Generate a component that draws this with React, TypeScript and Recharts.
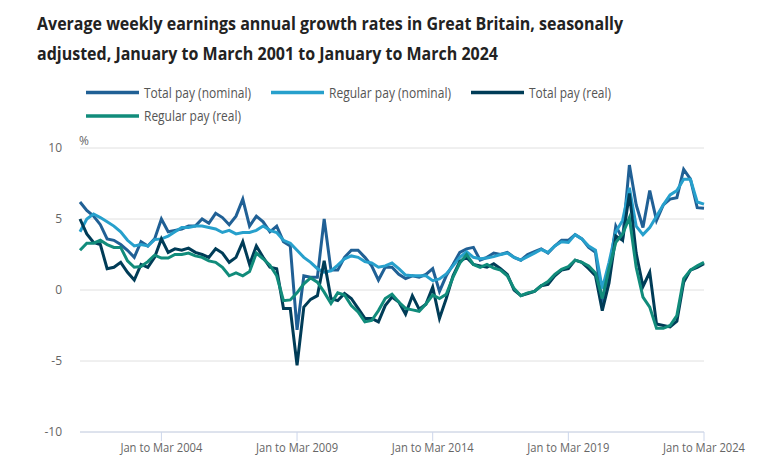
import { LineChart, Line, XAxis, YAxis, CartesianGrid } from 'recharts';

// rolling three-month periods, sampled each quarter
const quarterNames = ['Jan to Mar', 'Apr to Jun', 'Jul to Sep', 'Oct to Dec'];
const years = [2001, 2002, 2003, 2004, 2005, 2006, 2007, 2008, 2009, 2010, 2011, 2012,
  2013, 2014, 2015, 2016, 2017, 2018, 2019, 2020, 2021, 2022, 2023, 2024];
const periods = years.flatMap((y) => quarterNames.map((q) => `${q} ${y}`)).slice(0, 93);

const xTickLabels = ['Jan to Mar 2004', 'Jan to Mar 2009', 'Jan to Mar 2014', 'Jan to Mar 2019', 'Jan to Mar 2024'];
const yTicks = [-10, -5, 0, 5, 10];

// % annual growth, one row per year (4 quarters)
const totalNominal = [
  6.2, 5.6, 5.2, 4.6,
  3.6, 3.5, 3.2, 2.8,
  2.3, 3.4, 3.1, 3.6,
  5.0, 4.1, 4.2, 4.3,
  4.5, 4.5, 5.0, 4.7,
  5.4, 5.1, 4.6, 5.2,
  6.4, 4.5, 5.2, 4.8,
  4.1, 4.5, 3.4, 3.1,
  -2.8, 1.0, 0.9, 0.9,
  5.0, 1.4, 1.4, 2.3,
  2.8, 2.8, 2.3, 1.7,
  0.7, 1.6, 1.6, 1.1,
  0.8, 1.0, 0.9, 1.1,
  1.5, -0.1, 1.0, 1.8,
  2.65, 2.9, 3.0, 2.1,
  2.3, 2.6, 2.5, 2.65,
  2.3, 2.1, 2.5, 2.7,
  2.9, 2.6, 3.1, 3.5,
  3.5, 3.9, 3.6, 3.0,
  2.65, -1.0, 1.3, 4.5,
  3.6, 8.8, 6.0, 4.4,
  7.0, 4.9, 6.0, 6.4,
  6.5, 8.5, 7.8, 5.8,
  5.75,
];

const regularNominal = [
  4.1, 5.0, 5.35, 5.1,
  4.8, 4.5, 4.1, 3.5,
  3.1, 3.2, 3.1, 3.55,
  3.6, 3.8, 4.1, 4.4,
  4.4, 4.5, 4.5, 4.4,
  4.3, 4.05, 4.2, 3.95,
  4.05, 4.05, 4.2, 4.5,
  4.2, 4.05, 3.5, 3.3,
  2.8, 2.3, 1.95, 1.5,
  1.25, 1.35, 1.75, 2.2,
  2.4, 2.3, 2.0, 1.9,
  1.6, 1.7, 1.9, 1.5,
  1.05, 1.0, 1.0, 1.0,
  0.66, 0.78, 1.13, 1.7,
  2.3, 2.7, 2.3, 2.2,
  2.25, 2.35, 2.5, 2.6,
  2.3, 2.1, 2.35, 2.6,
  2.85, 2.65, 3.1, 3.4,
  3.35, 3.9, 3.6, 3.1,
  2.8, 0.1, 1.95, 4.1,
  4.9, 7.2, 4.5, 3.9,
  4.4, 5.2, 6.0, 6.7,
  7.0, 7.8, 7.8, 6.2,
  6.05,
];

const totalReal = [
  5.0, 3.95, 3.35, 3.2,
  1.5, 1.6, 1.95, 1.25,
  0.7, 1.8, 1.6, 2.3,
  3.6, 2.65, 2.9, 2.8,
  2.95, 2.65, 2.5, 2.3,
  2.9, 2.6, 1.95, 2.3,
  3.4, 1.8, 3.1, 2.3,
  1.6, 1.5, -1.3, -1.3,
  -5.3, -1.2, -0.66, -0.4,
  2.05, -0.6, -0.75, -0.25,
  -0.6, -1.3, -2.0, -2.0,
  -2.25, -1.1, -0.5, -0.85,
  -1.7, -0.4, -1.35, -1.0,
  0.2, -2.0, -0.6, 1.0,
  2.0, 2.3, 1.8, 1.7,
  1.6, 1.85, 1.5, 1.1,
  0.0, -0.4, -0.25, -0.1,
  0.3, 0.4, 1.0, 1.4,
  1.5, 2.1, 1.95, 1.5,
  1.0, -1.45, 0.5, 3.8,
  3.5, 6.8, 2.6, 0.25,
  1.25, -2.4, -2.5, -2.6,
  -2.2, 0.55, 1.4, 1.6,
  1.85,
];

const regularReal = [
  2.8, 3.3, 3.3, 3.5,
  3.2, 3.0, 3.0, 2.05,
  1.6, 1.65, 2.0, 2.45,
  2.25, 2.25, 2.5, 2.5,
  2.6, 2.4, 2.3, 2.05,
  1.95, 1.6, 1.0, 1.2,
  1.0, 1.3, 2.6, 2.2,
  1.75, 1.0, -0.75, -0.7,
  -0.2, 0.43, 0.85, 0.55,
  -0.15, -0.95, -0.2, -0.35,
  -1.1, -1.55, -2.25, -2.15,
  -1.45, -0.6, -0.3, -0.85,
  -1.3, -1.4, -1.5, -0.98,
  -0.35, -0.6, -0.3, 0.9,
  1.9, 2.5, 1.8, 1.6,
  1.8, 1.55, 1.4, 1.0,
  0.1, -0.4, -0.2, -0.1,
  0.3, 0.6, 1.1, 1.45,
  1.65, 2.1, 1.95, 1.7,
  1.2, -0.6, 1.5, 3.35,
  3.95, 5.1, 1.6, -0.5,
  -1.2, -2.7, -2.7, -2.5,
  -1.8, 0.8, 1.4, 1.7,
  1.95,
];

const series = [
  { key: 'totalNominal', name: 'Total pay (nominal)', color: '#206095' },
  { key: 'regularNominal', name: 'Regular pay (nominal)', color: '#27a0cc' },
  { key: 'totalReal', name: 'Total pay (real)', color: '#003c57' },
  { key: 'regularReal', name: 'Regular pay (real)', color: '#118c7b' },
];

const data = periods.map((period, i) => ({
  period,
  totalNominal: totalNominal[i],
  regularNominal: regularNominal[i],
  totalReal: totalReal[i],
  regularReal: regularReal[i],
}));

const FONT = '"Open Sans", sans-serif';

const XTick = (props: any) => {
  const { x, y, payload } = props;
  if (!xTickLabels.includes(payload.value)) return <g />;
  return (
    <g transform={`translate(${x},${y})`}>
      <line x1={0} x2={0} y1={0} y2={9} stroke="#ccd6eb" />
      <text y={19.5} textAnchor="middle" fill="#666" fontSize={12} fontFamily={FONT}
        textLength={82} lengthAdjust="spacingAndGlyphs">
        {payload.value}
      </text>
    </g>
  );
};

const legendRows = [
  [{ s: 0, x: 86, w: 107 }, { s: 1, x: 271, w: 122 }, { s: 2, x: 471, w: 82 }],
  [{ s: 3, x: 86, w: 97 }],
];

export default function App() {
  return (
    <div style={{ position: 'absolute', left: 0, top: 0, width: 770, height: 474, background: '#fff' }}>
      <LineChart width={770} height={474} data={data} margin={{ top: 148, right: 66, bottom: 12, left: 0 }}>
        <CartesianGrid vertical={false} stroke="#e0e0e0" />
        <XAxis dataKey="period" interval={0} tick={XTick} tickLine={false} tickSize={0} tickMargin={0}
          height={30} axisLine={{ stroke: '#ccd6eb' }} />
        <YAxis type="number" domain={[-10, 10]} ticks={yTicks} width={80} axisLine={false}
          tickLine={false} tickSize={0} tickMargin={18}
          tick={{ fill: '#666', fontSize: 12, fontFamily: FONT }} />
        {series.map((s) => (
          <Line key={s.key} type="linear" dataKey={s.key} name={s.name} stroke={s.color}
            strokeWidth={3} dot={false} isAnimationActive={false} />
        ))}
      </LineChart>
      <svg width={770} height={150} style={{ position: 'absolute', left: 0, top: 0, pointerEvents: 'none' }}>
        <g fontFamily={FONT} fill="#222">
          <text x={37} y={29.5} fontSize={18} fontWeight={700} textLength={586} lengthAdjust="spacingAndGlyphs">
            Average weekly earnings annual growth rates in Great Britain, seasonally
          </text>
          <text x={37} y={60} fontSize={18} fontWeight={700} textLength={461} lengthAdjust="spacingAndGlyphs">
            adjusted, January to March 2001 to January to March 2024
          </text>
        </g>
        {legendRows.map((row, r) =>
          row.map((it) => {
            const s = series[it.s];
            const cy = 92.5 + r * 23.5;
            return (
              <g key={s.key}>
                <line x1={it.x} x2={it.x + 53} y1={cy} y2={cy} stroke={s.color} strokeWidth={3.5} />
                <text x={it.x + 58} y={cy + 5} fontSize={14} fill="#555" fontFamily={FONT}
                  textLength={it.w} lengthAdjust="spacingAndGlyphs">
                  {s.name}
                </text>
              </g>
            );
          })
        )}
        <text x={79} y={145} fontSize={12} fill="#666" fontFamily={FONT}>%</text>
      </svg>
    </div>
  );
}
